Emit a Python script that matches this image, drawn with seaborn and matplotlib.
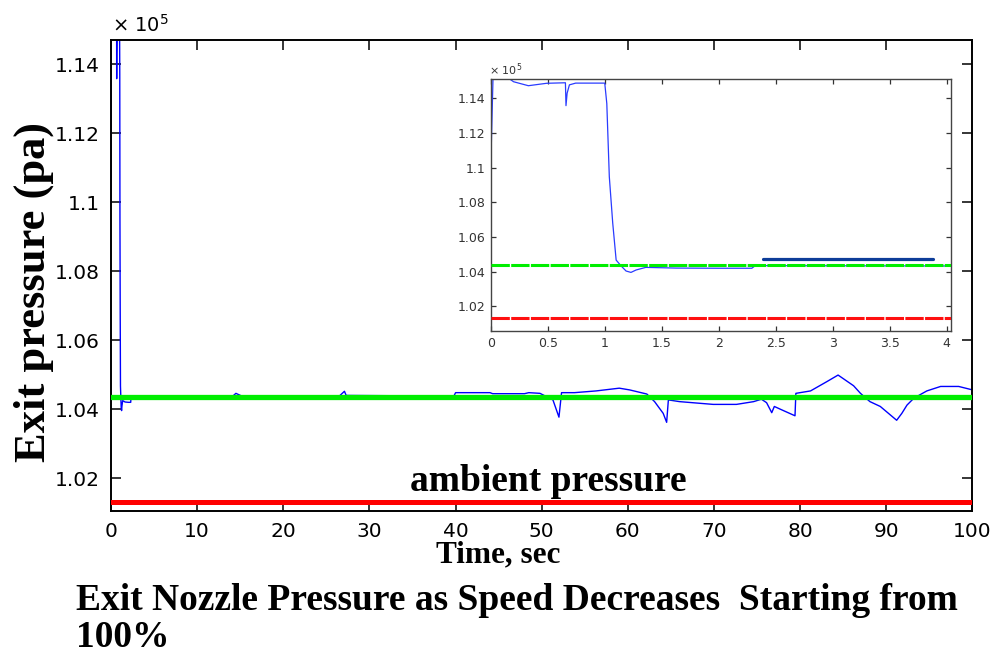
import numpy as np
import pandas as pd
import matplotlib
matplotlib.use("Agg")
import matplotlib.pyplot as plt
import seaborn as sns

# Exit pressure history, in units of 1e5 Pa
time_s = [0.0, 0.02, 0.17, 0.20, 0.33, 0.49, 0.655, 0.66, 0.67, 0.69, 0.745,
          1.00, 1.018, 1.04, 1.07, 1.10, 1.144, 1.187, 1.23, 1.275, 1.36,
          1.625, 2.0, 2.29, 2.32, 4.0, 10.0, 14.0, 14.5, 15.2, 26.5, 27.1,
          27.3, 39.8, 40.0, 44.0, 44.3, 48.0, 48.5, 49.8, 51.3, 52.0, 52.3,
          53.8, 56.3, 59.0, 60.2, 62.2, 63.1, 64.1, 64.5, 64.7, 66.0, 69.9,
          72.6, 74.6, 75.5, 76.1, 76.7, 77.0, 77.7, 79.4, 79.5, 81.2, 83.1,
          84.4, 86.2, 87.0, 88.1, 89.3, 91.2, 91.8, 92.4, 93.2, 94.7, 96.3,
          98.4, 100.0]
exit_pressure = [1.100, 1.152, 1.151, 1.1496, 1.1473, 1.1487, 1.149, 1.1358,
                 1.143, 1.1478, 1.1488, 1.1488, 1.137, 1.0948, 1.068, 1.0467,
                 1.0433, 1.0404, 1.0396, 1.041, 1.0425, 1.0421, 1.042, 1.042,
                 1.0435, 1.0433, 1.0432, 1.0435, 1.0446, 1.0438, 1.0438,
                 1.0452, 1.0440, 1.0438, 1.0448, 1.0448, 1.0445, 1.0445,
                 1.0448, 1.0446, 1.0427, 1.0377, 1.0448, 1.0448, 1.0453,
                 1.0461, 1.0456, 1.0444, 1.0422, 1.0388, 1.0362, 1.0427,
                 1.0422, 1.0414, 1.0414, 1.0422, 1.0429, 1.0419, 1.0390,
                 1.0408, 1.0400, 1.0381, 1.0446, 1.0453, 1.0480, 1.0499,
                 1.0468, 1.0446, 1.0422, 1.0408, 1.0368, 1.0388, 1.0412,
                 1.0432, 1.0453, 1.0466, 1.0466, 1.0456]

design_pressure = 1.0436     # green reference level
ambient_pressure = 1.0131    # red reference level

# short steady segment marked in the zoomed view
marker_time = [2.39, 3.88]
marker_pressure = [1.0471, 1.0471]

main_xticks = [0, 10, 20, 30, 40, 50, 60, 70, 80, 90, 100]
main_yticks = [1.02, 1.04, 1.06, 1.08, 1.10, 1.12, 1.14]
main_yticklabels = ["1.02", "1.04", "1.06", "1.08", "1.1", "1.12", "1.14"]
inset_xticks = [0, 0.5, 1, 1.5, 2, 2.5, 3, 3.5, 4]
inset_xticklabels = ["0", "0.5", "1", "1.5", "2", "2.5", "3", "3.5", "4"]

df = pd.DataFrame({"t": time_s, "p": exit_pressure})
seg = pd.DataFrame({"t": marker_time, "p": marker_pressure})

sns.set_theme(style="ticks")
plt.rcParams["font.family"] = ["DejaVu Sans"]
plt.rcParams["text.color"] = "black"
plt.rcParams["axes.labelcolor"] = "black"

fig = plt.figure(figsize=(9.91, 6.57), dpi=100)
fig.patch.set_facecolor("white")

# ---- main axes ----
ax = fig.add_axes([0.112, 0.2222, 0.8693, 0.7169])
ax.set_facecolor("white")
sns.lineplot(data=df, x="t", y="p", ax=ax, color="#0000ff", lw=1.0,
             estimator=None, sort=False, zorder=2)
ax.axhline(design_pressure, color="#00ee00", lw=3.8, zorder=3)
ax.axhline(ambient_pressure, color="#ff0000", lw=3.6, zorder=3)
ax.set_xlim(0, 100)
ax.set_ylim(1.0105, 1.1470)
ax.set_xticks(main_xticks)
ax.set_xticklabels([str(v) for v in main_xticks])
ax.set_yticks(main_yticks)
ax.set_yticklabels(main_yticklabels)
ax.tick_params(direction="in", length=7, width=1.1, top=True, right=True,
               labelsize=14.5, colors="black", pad=8)
for s in ax.spines.values():
    s.set_visible(True)
    s.set_color("black")
    s.set_linewidth(1.4)

serif_bold = dict(family=["Liberation Serif", "DejaVu Serif"], weight="bold",
                  color="black")
ax.set_xlabel("Time, sec", fontsize=22.5, **serif_bold)
ax.xaxis.set_label_coords(0.450, -0.062)
ax.set_ylabel("Exit pressure (pa)", fontsize=32, **serif_bold)
ax.yaxis.set_label_coords(-0.066, 0.465)

ax.text(50.8, 1.0163, "ambient pressure", ha="center", va="baseline",
        fontsize=27, zorder=4, **serif_bold)

fig.text(0.113, 1 - 32 / 657, "\u00d7 10$^{5}$", fontsize=14,
         color="black", ha="left", va="baseline")

# caption under the chart, two lines
fig.text(76 / 991, 1 - 610 / 657,
         "Exit Nozzle Pressure as Speed Decreases  Starting from",
         fontsize=27, ha="left", va="baseline", **serif_bold)
fig.text(76 / 991, 1 - 647 / 657, "100%",
         fontsize=27, ha="left", va="baseline", **serif_bold)

# ---- zoomed view of the first seconds ----
axin = fig.add_axes([0.4952, 0.4962, 0.4642, 0.3831])
axin.set_facecolor("white")
sns.lineplot(data=df, x="t", y="p", ax=axin, color="#2a3cff", lw=0.9,
             estimator=None, sort=False, zorder=2)
axin.axhline(design_pressure, color="#00ee00", lw=2.2,
             ls=(0, (6, 0.45)), zorder=3)
axin.axhline(ambient_pressure, color="#ff1010", lw=2.2,
             ls=(0, (6, 0.45)), zorder=3)
sns.lineplot(data=seg, x="t", y="p", ax=axin, color="#0d3d99", lw=2.3,
             estimator=None, zorder=4)
axin.set_xlim(0, 4.035)
axin.set_ylim(1.0058, 1.151)
axin.set_xticks(inset_xticks)
axin.set_xticklabels(inset_xticklabels)
axin.set_yticks(main_yticks)
axin.set_yticklabels(main_yticklabels)
axin.set_xlabel("")
axin.set_ylabel("")
axin.tick_params(direction="in", length=3.5, width=0.9, top=True, right=True,
                 labelsize=9, colors="#333333", pad=4)
for s in axin.spines.values():
    s.set_visible(True)
    s.set_color("#444444")
    s.set_linewidth(1.0)
fig.text(489 / 991, 1 - 74.5 / 657, "\u00d7 10$^{5}$", fontsize=8,
         color="#333333", ha="left", va="baseline")

fig.savefig("out.png", dpi=100, facecolor="white")
